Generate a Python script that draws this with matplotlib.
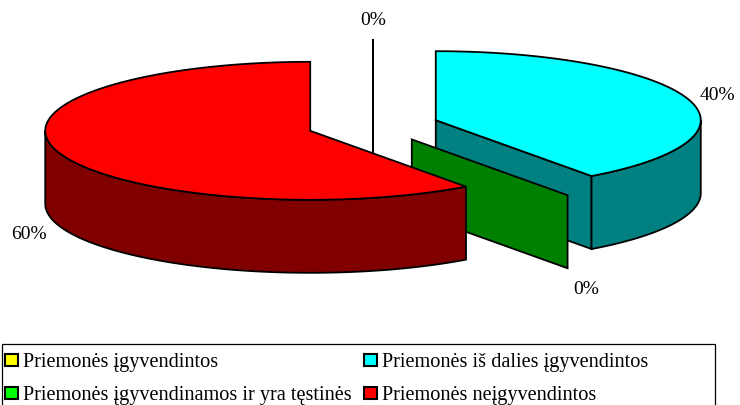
import numpy as np
import matplotlib
matplotlib.use("Agg")
import matplotlib.pyplot as plt
from matplotlib.patches import Polygon, Rectangle

plt.rcParams['font.family'] = ['Liberation Serif', 'DejaVu Serif']

# values
labels = ["Priemonės įgyvendintos", "Priemonės iš dalies įgyvendintos",
          "Priemonės įgyvendinamos ir yra tęstinės", "Priemonės neįgyvendintos"]
values = [0, 40, 0, 60]
top_colors = ["#ffff00", "#00ffff", "#00ff00", "#ff0000"]
side_colors = ["#808000", "#008080", "#008000", "#800000"]

# pie geometry, in pixels
cx, cy = 373, 126.5
rx, ry = 265, 69
depth = 73
explode = 66
lw = 1.3


# angle is clockwise from the top of the pie
def point(x0, y0, deg):
    a = np.radians(deg)
    return x0 + rx * np.sin(a), y0 - ry * np.cos(a)


def arc(x0, y0, a1, a2):
    t = np.linspace(a1, a2, 120)
    return np.column_stack(point(x0, y0, t))


def draw_slice(ax, a1, a2, top, side):
    mid = np.radians((a1 + a2) / 2)
    x0 = cx + explode * np.sin(mid)
    y0 = cy - explode * ry / rx * np.cos(mid)
    style = dict(edgecolor="black", linewidth=lw, joinstyle="miter")

    # cut face on the closing edge, only seen on the right hand side
    if a2 <= 180:
        x1, y1 = point(x0, y0, a2)
        ax.add_patch(Polygon([(x0, y0), (x1, y1), (x1, y1 + depth), (x0, y0 + depth)],
                             facecolor=side, **style))
    # outer wall, front half only
    s1, s2 = max(a1, 90), min(a2, 270)
    if s2 > s1:
        edge = arc(x0, y0, s1, s2)
        ax.add_patch(Polygon(np.vstack([edge, edge[::-1] + [0, depth]]), facecolor=side, **style))
    # top face
    if a2 > a1:
        ax.add_patch(Polygon(np.vstack([[x0, y0], arc(x0, y0, a1, a2)]), facecolor=top, **style))
    return x0, y0


fig = plt.figure(figsize=(7.4, 4.06), dpi=100)
ax = fig.add_axes([0, 0, 1, 1])
ax.set_xlim(0, 740)
ax.set_ylim(406, 0)
ax.axis("off")

start = 0
total = sum(values)
for val, top, side in zip(values, top_colors, side_colors):
    end = start + 360 * val / total
    x0, y0 = draw_slice(ax, start, end, top, side)
    # percent label just outside the middle of the slice
    mid = (start + end) / 2
    lx, ly = point(x0, y0, mid)
    if np.cos(np.radians(mid)) < 0:
        ly += depth
    lx += 31 * np.sin(np.radians(mid))
    ly += 2 - 22 * np.cos(np.radians(mid))
    ax.text(lx, ly, f"{val}%", ha="center", va="center", fontsize=14, color="black")
    start = end

# legend box runs off the bottom of the picture
ax.add_patch(Rectangle((2, 345), 713, 80, facecolor="white", edgecolor="black", linewidth=0.9))
col_x = [5, 364]
row_y = [361, 394]
for i, (name, col) in enumerate(zip(labels, top_colors)):
    x = col_x[i % 2]
    y = row_y[i // 2]
    ax.add_patch(Rectangle((x, y - 6), 13, 12, facecolor=col, edgecolor="black", linewidth=1.5))
    ax.text(x + 18, y + 2, name, ha="left", va="center", fontsize=14.6, color="black")

fig.savefig("out.png", dpi=100)
